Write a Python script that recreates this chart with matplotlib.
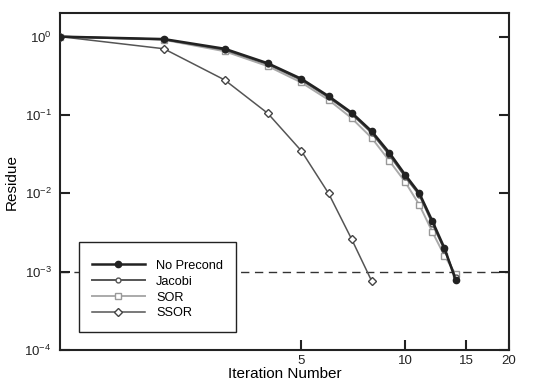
import matplotlib
matplotlib.use("Agg")
import matplotlib.pyplot as plt
import numpy as np

plt.rcParams['font.family'] = ['Liberation Sans', 'DejaVu Sans']
plt.rcParams['mathtext.default'] = 'regular'

iters = [1, 2, 3, 4, 5, 6, 7, 8, 9, 10, 11, 12, 13, 14]
no_precond = [1.0, 0.93, 0.70, 0.457, 0.29, 0.174, 0.107, 0.062, 0.033, 0.0173, 0.0100, 0.0044, 0.0020, 0.00079]
jacobi = [1.0, 0.92, 0.68, 0.445, 0.28, 0.168, 0.103, 0.059, 0.031, 0.0163, 0.0095, 0.0041, 0.0019, 0.00085]
sor = [1.0, 0.91, 0.65, 0.42, 0.26, 0.156, 0.091, 0.051, 0.026, 0.014, 0.0071, 0.0032, 0.0016, 0.00093]
ssor_iters = [1, 2, 3, 4, 5, 6, 7, 8]
ssor = [1.0, 0.70, 0.28, 0.105, 0.035, 0.0100, 0.0026, 0.00076]
tol = 1e-3

fig = plt.figure(figsize=(5.45, 3.83), dpi=100)
ax = fig.add_axes([0.110, 0.086, 0.824, 0.880])

ax.axhline(tol, color='#333333', lw=1, dashes=(6, 4), zorder=1)
ax.plot(iters, no_precond, color='#222222', lw=1.8, marker='o', ms=4.5,
        mfc='#222222', mec='#222222', label='No Precond', zorder=5)
ax.plot(iters, jacobi, color='#555555', lw=1.4, marker='o', ms=3.5,
        mfc='white', mec='#555555', label='Jacobi', zorder=4)
ax.plot(iters, sor, color='#aaaaaa', lw=1.4, marker='s', ms=4,
        mfc='white', mec='#999999', label='SOR', zorder=3)
ax.plot(ssor_iters, ssor, color='#555555', lw=1.1, marker='D', ms=3.8,
        mfc='white', mec='#444444', label='SSOR', zorder=3)

ax.set_xscale('log')
ax.set_yscale('log')
ax.set_xlim(1, 20)
ax.set_ylim(1e-4, 2)
ax.set_xticks([5, 10, 15, 20])
ax.set_xticklabels(['5', '10', '15', '20'])
ax.xaxis.set_minor_locator(matplotlib.ticker.NullLocator())
ax.set_yticks([1e-4, 1e-3, 1e-2, 1e-1, 1e0])
ax.yaxis.set_minor_locator(matplotlib.ticker.NullLocator())
ax.tick_params(direction='in', length=7, width=1.5, labelsize=9.5,
               right=True, top=False, colors='#222222')
ax.tick_params(axis='y', pad=6)
for s in ax.spines.values():
    s.set_linewidth(1.5)
    s.set_color('#222222')

ax.set_xlabel('Iteration Number', fontsize=11, labelpad=0)
ax.set_ylabel('Residue', fontsize=11, labelpad=4)

leg = ax.legend(loc='lower left', bbox_to_anchor=(0.042, 0.053), fontsize=9.2,
                frameon=True, fancybox=False, edgecolor='#222222',
                handlelength=4.2, borderpad=1.0, labelspacing=0.3,
                handletextpad=0.85, borderaxespad=0,
                title=' ', title_fontsize=1.5)
leg.get_frame().set_linewidth(1)
leg.get_frame().set_alpha(1)
leg.set_zorder(10)

fig.savefig('out.png', dpi=100)
